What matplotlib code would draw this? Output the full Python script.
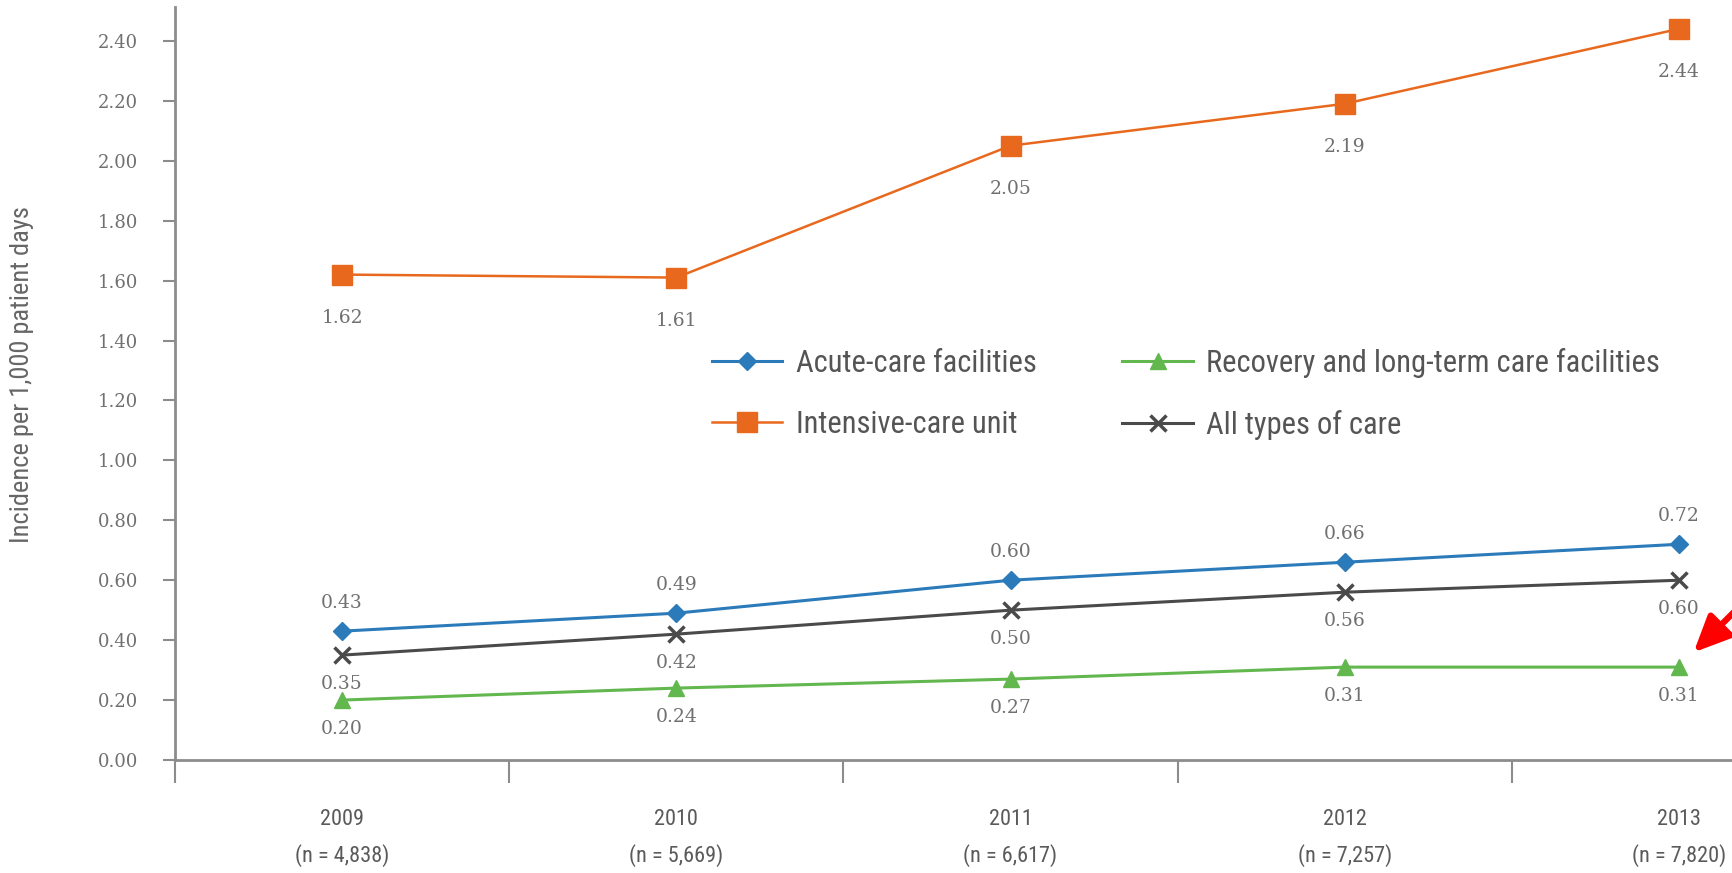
import numpy as np
import matplotlib
matplotlib.use('Agg')
import matplotlib.pyplot as plt
from matplotlib import font_manager

years = ['2009', '2010', '2011', '2012', '2013']
n_cases = ['4,838', '5,669', '6,617', '7,257', '7,820']
acute = [0.43, 0.49, 0.60, 0.66, 0.72]
icu = [1.62, 1.61, 2.05, 2.19, 2.44]
recovery = [0.20, 0.24, 0.27, 0.31, 0.31]
all_care = [0.35, 0.42, 0.50, 0.56, 0.60]
y_ticks = [0.0, 0.2, 0.4, 0.6, 0.8, 1.0, 1.2, 1.4, 1.6, 1.8, 2.0, 2.2, 2.4]

# narrow sans for axis titles / legend, serif for numbers
installed = {f.name for f in font_manager.fontManager.ttflist}
narrow = next((n for n in ['Liberation Sans Narrow', 'Roboto Condensed', 'DejaVu Sans']
               if n in installed), 'DejaVu Sans')
num_font = 'DejaVu Serif'

grey_txt = '#707070'
axis_grey = '#8c8c8c'
blue = '#2b7bba'
orange = '#e8691e'
green = '#62b84e'
dark = '#4a4a4a'

fig = plt.figure(figsize=(17.32, 8.73), dpi=100)
ax = fig.add_axes([175 / 1732, 113 / 873, 1671 / 1732, 753 / 873])

x = np.arange(len(years))
ax.plot(x, acute, color=blue, lw=2.2, marker='D', ms=9, label='Acute-care facilities')
ax.plot(x, icu, color=orange, lw=1.8, marker='s', ms=15, label='Intensive-care unit')
ax.plot(x, recovery, color=green, lw=2.2, marker='^', ms=12, label='Recovery and long-term care facilities')
ax.plot(x, all_care, color=dark, lw=2.2, marker='x', ms=12, mew=2.5, label='All types of care')

# value labels: acute above, everything else below
def label_points(vals, dy):
    for i, v in enumerate(vals):
        ax.annotate(f'{v:.2f}', (i, v), xytext=(0, dy), textcoords='offset points',
                    ha='center', va='center', fontsize=13.5, family=num_font, color=grey_txt)

label_points(acute, 20)
label_points(icu, -31)
label_points(recovery, -21)
label_points(all_care, -21)

ax.set_xlim(-0.5, 4.5)
ax.set_ylim(0, 2.513)

ax.set_yticks(y_ticks)
ax.set_yticklabels([f'{t:.2f}' for t in y_ticks], family=num_font, fontsize=13, color=grey_txt)
ax.tick_params(axis='y', length=8.6, width=1.5, color=axis_grey, pad=18)

ax.set_xticks(np.arange(-0.5, 5, 1))
ax.tick_params(axis='x', which='major', length=16.5, width=1.5, color=axis_grey, labelbottom=False)
ax.set_xticks(x, minor=True)
ax.set_xticklabels([f'{y}\n(n = {n})' for y, n in zip(years, n_cases)], minor=True,
                   family=narrow, fontsize=16, color='#5a5a5a')
ax.tick_params(axis='x', which='minor', length=0, pad=35)
for lbl in ax.get_xticklabels(minor=True):
    lbl.set_linespacing(1.8)

for side in ['top', 'right']:
    ax.spines[side].set_visible(False)
for side in ['left', 'bottom']:
    ax.spines[side].set_color(axis_grey)
    ax.spines[side].set_linewidth(2)

fig.text(22 / 1732, 1 - 375 / 873, 'Incidence per 1,000 patient days', rotation=90,
         ha='center', va='center', family=narrow, fontsize=19, color='#666666')

ax.legend(ncol=2, loc='upper left', bbox_to_anchor=(712 / 1732, 1 - 348 / 873),
          bbox_transform=fig.transFigure, frameon=False, borderpad=0, borderaxespad=0,
          handlelength=2.3, handletextpad=0.45, columnspacing=2.8, labelspacing=1.05,
          prop={'family': narrow, 'size': 22}, labelcolor='#555555')

# red pointer at the last recovery value
ax.annotate('', xy=(4, recovery[-1]), xytext=(110, 110), textcoords='offset pixels',
            arrowprops=dict(arrowstyle='-|>,head_length=1.1,head_width=0.5', color='#ff0000',
                            lw=4.5, shrinkA=0, shrinkB=15, mutation_scale=20),
            annotation_clip=False)

fig.savefig('out.png', dpi=100)
